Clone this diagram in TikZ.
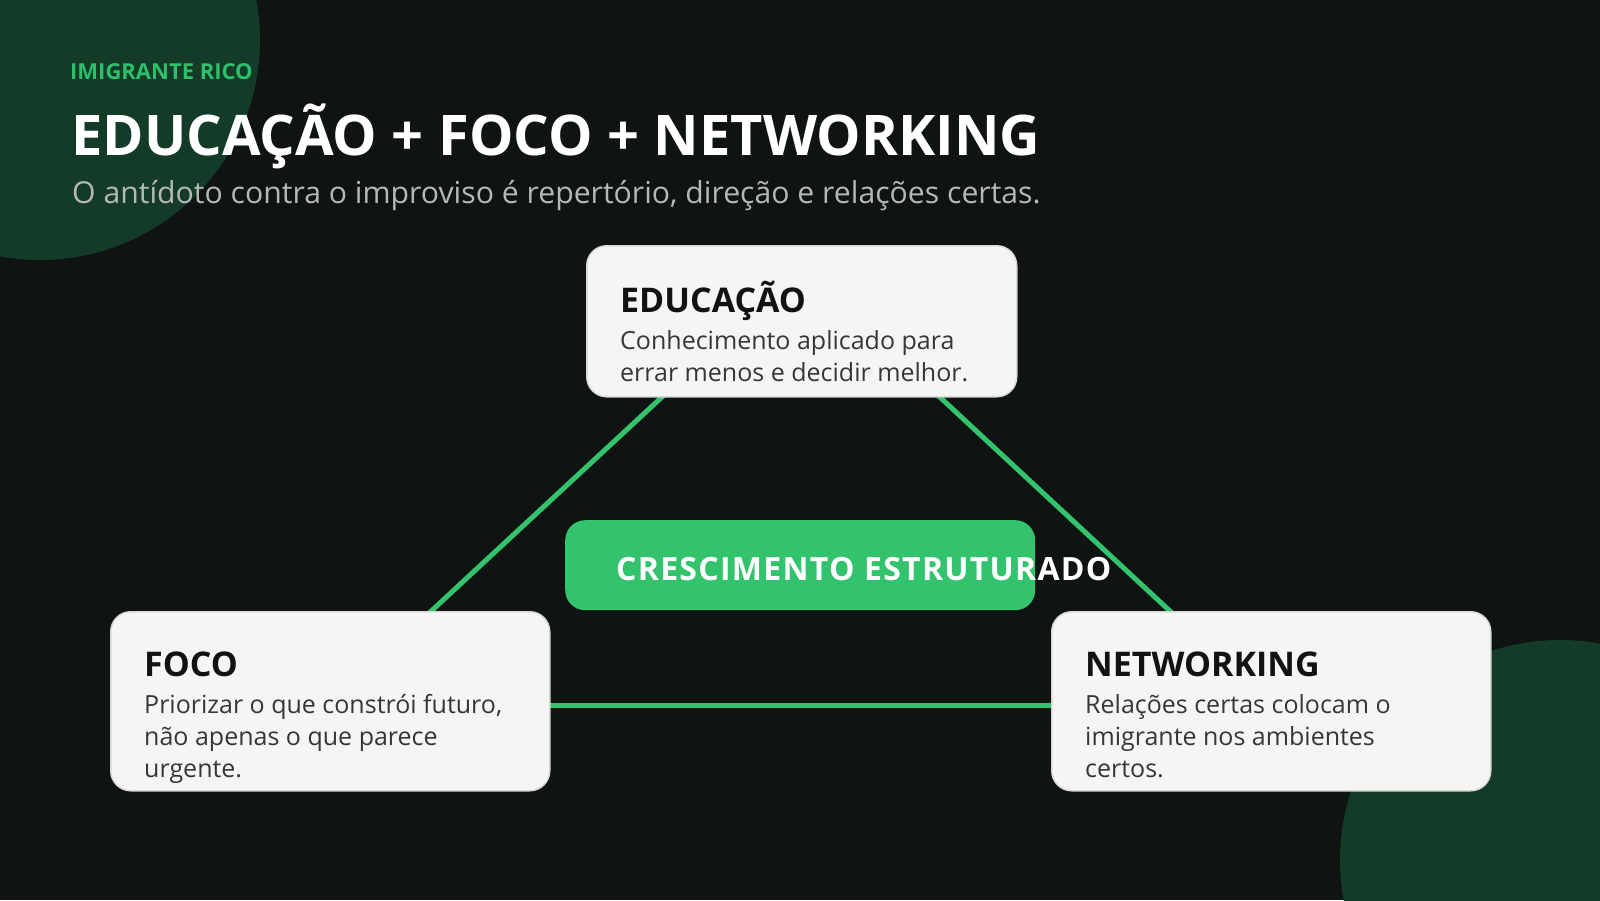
\documentclass[tikz,border=0pt]{standalone}
\usepackage{fontspec}
\setmainfont{Open Sans}
\usepackage{tikz}
\usetikzlibrary{positioning,calc}
\definecolor{night}{HTML}{0F1312}
\definecolor{forest}{HTML}{133B27}
\definecolor{leaf}{HTML}{33C36D}
\definecolor{kickergreen}{HTML}{2FBF6B}
\definecolor{paper}{HTML}{F5F6F3}
\definecolor{paperedge}{HTML}{D6D9D4}
\definecolor{ink}{HTML}{121212}
\definecolor{graphite}{HTML}{333735}
\definecolor{mist}{HTML}{B4B9B6}
\tikzset{
  blob/.style={fill=forest},
  card/.style={draw=paperedge,line width=1.5pt,fill=paper,rounded corners=20pt,anchor=north west,inner sep=0pt},
  hub/.style={fill=leaf,rounded corners=20pt,anchor=north west,inner sep=0pt},
  link/.style={draw=leaf,line width=5pt},
  kicker/.style={anchor=base west,inner sep=0pt,text=kickergreen,font=\fontsize{22}{26}\selectfont\bfseries},
  headline/.style={anchor=base west,inner sep=0pt,text=white,font=\fontsize{56}{64}\selectfont\bfseries},
  subline/.style={anchor=base west,inner sep=0pt,text=mist,font=\fontsize{30.2}{36}\selectfont},
  cardtitle/.style={anchor=base west,inner sep=0pt,text=ink,font=\fontsize{34}{40}\selectfont\bfseries},
  cardbody/.style={anchor=base west,inner sep=0pt,text=graphite,align=left,font=\fontsize{25}{32}\selectfont},
  hubtext/.style={anchor=base west,inner sep=0pt,text=white,font=\fontsize{32}{38}\selectfont\bfseries\addfontfeatures{LetterSpace=4}}
}

\begin{document}
\begin{tikzpicture}[x=1pt,y=-1pt]
  \useasboundingbox (0,0) rectangle (1600,900);
  \fill[night] (0,0) rectangle (1600,900);
  \fill[blob] (40,40) circle[radius=220pt];
  \fill[blob] (1560,860) circle[radius=220pt];

  % heading
  \node[kicker] (kick) at (70,79) {IMIGRANTE RICO};
  \node[headline] (head) at (71,155) {EDUCAÇÃO + FOCO + NETWORKING};
  \node[subline] (sub) at (72,203) {O antídoto contra o improviso é repertório, direção e relações certas.};

  % triangle behind the cards
  \coordinate (apex) at (801,268);
  \coordinate (leftv) at (330,705);
  \coordinate (rightv) at (1271,705);
  \draw[link] (apex)--(leftv);
  \draw[link] (apex)--(rightv);
  \draw[link] (leftv)--(rightv);

  % cards
  \node[card,minimum width=430,minimum height=151] (edu) at (586,245) {};
  \node[card,minimum width=439,minimum height=179] (foco) at (110,611) {};
  \node[card,minimum width=439,minimum height=179] (net) at (1051,611) {};
  \node[hub,minimum width=470,minimum height=90] (hub) at (565,520) {};

  % body base = last line
  \node[cardtitle] (edutitle) at ($(edu.north west)+(34,67)$) {EDUCAÇÃO};
  \node[cardbody] (edubody) at ($(edutitle.base west)+(0,69)$) {Conhecimento aplicado para\\errar menos e decidir melhor.};

  \node[cardtitle] (focotitle) at ($(foco.north west)+(34,65)$) {FOCO};
  \node[cardbody] (focobody) at ($(focotitle.base west)+(0,101)$) {Priorizar o que constrói futuro,\\não apenas o que parece\\urgente.};

  \node[cardtitle] (nettitle) at ($(net.north west)+(34,65)$) {NETWORKING};
  \node[cardbody] (netbody) at ($(nettitle.base west)+(0,101)$) {Relações certas colocam o\\imigrante nos ambientes\\certos.};

  \node[hubtext] (hubtitle) at ($(hub.north west)+(51,60)$) {CRESCIMENTO ESTRUTURADO};
\end{tikzpicture}
\end{document}
